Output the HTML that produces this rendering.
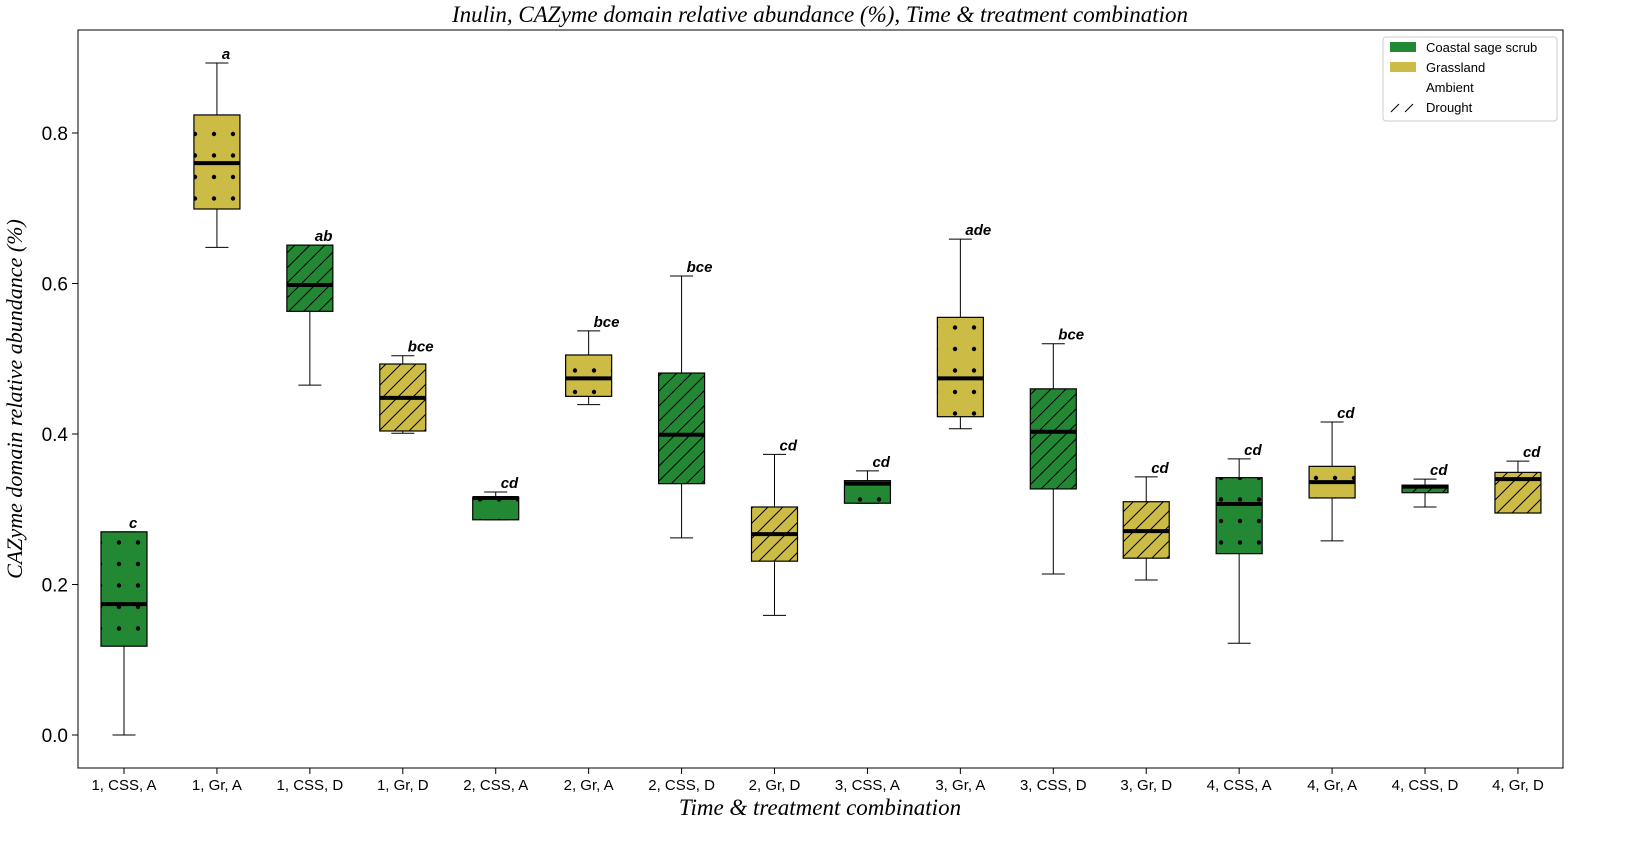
<!DOCTYPE html>
<html><head><meta charset="utf-8"><style>
html,body{margin:0;padding:0;background:#fff;overflow:hidden;}
svg{display:block;}
svg text{font-family:"Liberation Sans","DejaVu Sans",sans-serif;}
.serif{font-family:"Liberation Serif","DejaVu Serif",serif;font-style:italic;}
</style></head><body>
<svg id="chart" width="1635" height="858" viewBox="0 0 1635 858" xmlns="http://www.w3.org/2000/svg">
<defs>
<pattern id="dotsG" width="19" height="21.5" patternUnits="userSpaceOnUse"><rect width="19" height="21.5" fill="#228833"/><circle cx="5" cy="5" r="2.2" fill="#000"/></pattern>
<pattern id="dotsY" width="19" height="21.5" patternUnits="userSpaceOnUse"><rect width="19" height="21.5" fill="#ccbb44"/><circle cx="5" cy="5" r="2.2" fill="#000"/></pattern>
<pattern id="hatchG" width="15" height="15" patternUnits="userSpaceOnUse"><rect width="15" height="15" fill="#228833"/><path d="M-2,17 L17,-2 M-5,5 L5,-5 M10,20 L20,10" stroke="#000" stroke-width="1"/></pattern>
<pattern id="hatchY" width="15" height="15" patternUnits="userSpaceOnUse"><rect width="15" height="15" fill="#ccbb44"/><path d="M-2,17 L17,-2 M-5,5 L5,-5 M10,20 L20,10" stroke="#000" stroke-width="1"/></pattern>
</defs>
<text class="serif" x="820" y="22" font-size="23" text-anchor="middle">Inulin, CAZyme domain relative abundance (%), Time &amp; treatment combination</text>
<rect x="78" y="30" width="1485" height="738" fill="none" stroke="#000" stroke-width="1"/>
<g id="yaxis"></g><g id="xaxis"></g><g id="boxes"></g>
<text class="serif" x="820" y="815" font-size="23" text-anchor="middle">Time &amp; treatment combination</text>
<text class="serif" transform="translate(22,399) rotate(-90)" font-size="22" text-anchor="middle">CAZyme domain relative abundance (%)</text>
<g>
<rect x="1383" y="37" width="174" height="84" fill="#fff" stroke="#ccc" rx="3"/>
<g><rect x="1390" y="42" width="26" height="10" fill="#228833"/><text x="1426" y="52" font-size="13">Coastal sage scrub</text></g>
<g><rect x="1390" y="62" width="26" height="10" fill="#ccbb44"/><text x="1426" y="72" font-size="13">Grassland</text></g>
<g><text x="1426" y="92" font-size="13">Ambient</text></g>
<g><path d="M1391,112 L1399,104 M1405,112 L1413,104" stroke="#000"/><text x="1426" y="112" font-size="13">Drought</text></g>
</g>
</svg>
<script>
const categories=["1, CSS, A","1, Gr, A","1, CSS, D","1, Gr, D","2, CSS, A","2, Gr, A","2, CSS, D","2, Gr, D","3, CSS, A","3, Gr, A","3, CSS, D","3, Gr, D","4, CSS, A","4, Gr, A","4, CSS, D","4, Gr, D"];
const whiskerLow=[0.0,0.648,0.465,0.401,0.286,0.439,0.262,0.159,0.308,0.407,0.214,0.206,0.122,0.258,0.303,0.295];
const q1=[0.118,0.699,0.563,0.404,0.286,0.450,0.334,0.231,0.308,0.423,0.327,0.235,0.241,0.315,0.322,0.295];
const medians=[0.174,0.760,0.598,0.448,0.315,0.474,0.399,0.267,0.334,0.474,0.403,0.271,0.307,0.336,0.330,0.340];
const q3=[0.270,0.824,0.651,0.493,0.316,0.505,0.481,0.303,0.338,0.555,0.460,0.310,0.342,0.357,0.332,0.349];
const whiskerHigh=[0.270,0.893,0.651,0.504,0.323,0.537,0.610,0.373,0.351,0.659,0.520,0.343,0.367,0.416,0.340,0.364];
const letters=["c","a","ab","bce","cd","bce","bce","cd","cd","ade","bce","cd","cd","cd","cd","cd"];
const yTicks=[0.0,0.2,0.4,0.6,0.8];
const NS="http://www.w3.org/2000/svg";
const y=v=>735-v*752.5;
const x=i=>124+i*92.93;
function mk(tag,attrs,parent,text){const e=document.createElementNS(NS,tag);for(const k in attrs)e.setAttribute(k,attrs[k]);if(text!==undefined)e.textContent=text;parent.appendChild(e);return e;}
const ya=document.getElementById('yaxis'),xa=document.getElementById('xaxis'),bx=document.getElementById('boxes');
yTicks.forEach(t=>{
  const l=mk('line',{x1:72,x2:78,y1:y(t),y2:y(t),stroke:'#000'},ya);
  
  
  const tx=mk('text',{x:68,y:y(t)+7,'font-size':19,'text-anchor':'end'},ya,t.toFixed(1));
  
  
});
categories.forEach((c,i)=>{
  const cx=x(i);
  mk('line',{x1:cx,x2:cx,y1:768,y2:774,stroke:'#000'},xa);
  const tx=mk('text',{x:cx,y:790,'font-size':15,'text-anchor':'middle'},xa,c);
  
  
  const g=mk('g',{},bx);
  
  
  const css=c.includes('CSS'),dr=c.endsWith('D');
  const fill='url(#'+(dr?'hatch':'dots')+(css?'G':'Y')+')';
  const hw=23,cw=11.5;
  mk('line',{x1:cx,x2:cx,y1:y(whiskerHigh[i]),y2:y(q3[i]),stroke:'#000'},g);
  mk('line',{x1:cx,x2:cx,y1:y(q1[i]),y2:y(whiskerLow[i]),stroke:'#000'},g);
  mk('line',{x1:cx-cw,x2:cx+cw,y1:y(whiskerHigh[i]),y2:y(whiskerHigh[i]),stroke:'#000'},g);
  mk('line',{x1:cx-cw,x2:cx+cw,y1:y(whiskerLow[i]),y2:y(whiskerLow[i]),stroke:'#000'},g);
  mk('rect',{x:cx-hw,y:y(q3[i]),width:hw*2,height:Math.max(1,y(q1[i])-y(q3[i])),fill:fill,stroke:'#000','stroke-width':1.2},g);
  mk('line',{x1:cx-hw,x2:cx+hw,y1:y(medians[i]),y2:y(medians[i]),stroke:'#000','stroke-width':4},g);
  const lt=mk('text',{x:cx+5,y:y(whiskerHigh[i])-4,'font-size':15,'font-weight':'bold','font-style':'italic'},g,letters[i]);
  
  
});
</script>
</body></html>
